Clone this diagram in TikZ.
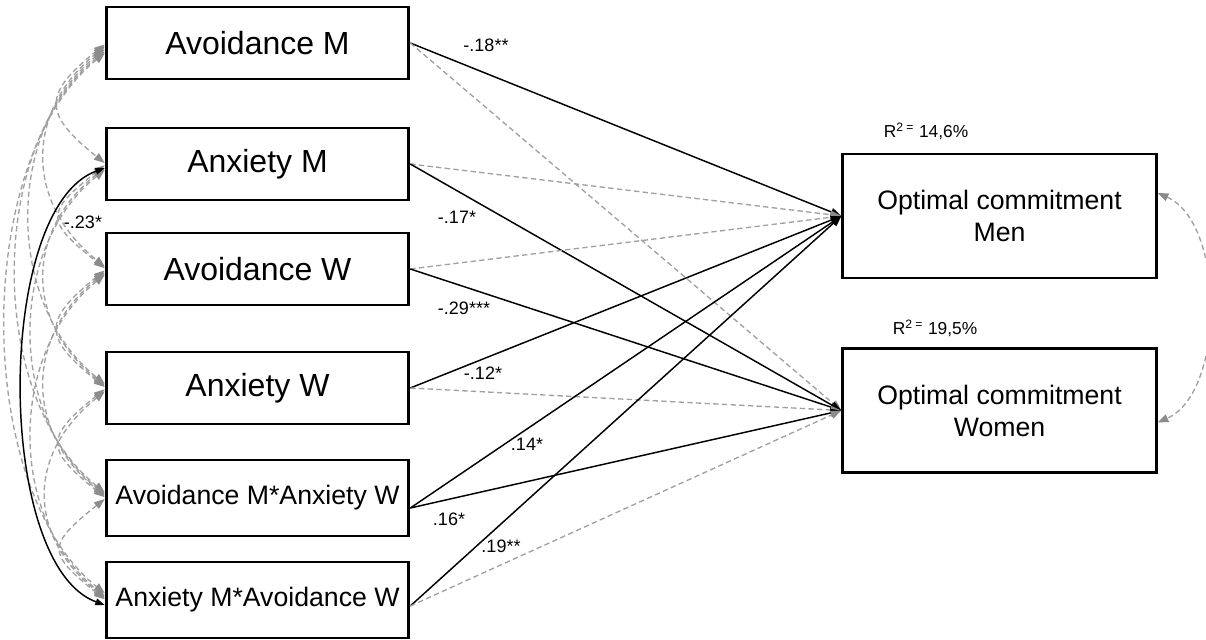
\documentclass[tikz,border=0pt]{standalone}
\usepackage{fontspec}
\setmainfont{Liberation Sans}
\usetikzlibrary{arrows.meta,calc}
\definecolor{covgray}{RGB}{160,160,160}
\definecolor{tipgray}{RGB}{140,140,140}

\tikzset{
  predbox/.style={draw, line width=2.2pt, minimum width=227pt, minimum height=54pt, inner sep=2pt, font=\fontsize{24}{28}\selectfont},
  intbox/.style={predbox, minimum height=57pt, font=\fontsize{20}{24}\selectfont},
  outbox/.style={draw, line width=2.2pt, minimum width=235pt, minimum height=93pt, align=center, font=\fontsize{20}{24}\selectfont},
  effect/.style={line width=1.1pt, -{Triangle[length=8pt,width=6pt]}},
  nseff/.style={covgray, line width=1pt, dash pattern=on 4pt off 2.5pt, -{Triangle[length=8pt,width=6pt,color=tipgray]}},
  cov/.style={covgray, line width=1pt, dash pattern=on 4pt off 2.5pt, {Triangle[length=8pt,width=6pt,color=tipgray]}-{Triangle[length=8pt,width=6pt,color=tipgray]}},
  sigcov/.style={line width=1.1pt, {Triangle[length=7pt,width=5pt]}-{Triangle[length=7pt,width=5pt]}},
  coeff/.style={font=\fontsize{13.5}{16}\selectfont, inner sep=1pt},
  rsq/.style={font=\fontsize{13}{15}\selectfont, inner sep=1pt}
}

\begin{document}
\begin{tikzpicture}[x=0.75pt, y=-0.75pt]
\useasboundingbox (0,0) rectangle (1206,639);

% predictors
\node[predbox] (avm) at (257.5,43) {Avoidance M};
\node[predbox] (anm) at (257.5,164) {Anxiety M};
\node[predbox] (avw) at (257.5,269) {Avoidance W};
\node[predbox] (anw) at (257.5,388) {Anxiety W};
\node[intbox] (avmanw) at (257.5,498) {Avoidance M*Anxiety W};
\node[intbox] (anmavw) at (257.5,600) {Anxiety M*Avoidance W};

% outcomes
\node[outbox] (men) at (999.5,216) {Optimal commitment\\Men};
\node[outbox] (wom) at (999.5,410.5) {Optimal commitment\\Women};
\node[rsq] (rmen) at (926,131) {R\textsuperscript{2 =} 14,6\%};
\node[rsq] (rwom) at (935,328) {R\textsuperscript{2 =} 19,5\%};

\coordinate (src5) at ($(avmanw.east)+(0,10)$);
\coordinate (src6) at ($(anmavw.east)+(0,6)$);

% paths
\draw[effect] (avm.east) -- (men.west);
\draw[nseff] (avm.east) -- (wom.west);
\draw[nseff] (anm.east) -- (men.west);
\draw[effect] (anm.east) -- (wom.west);
\draw[nseff] (avw.east) -- (men.west);
\draw[effect] (avw.east) -- (wom.west);
\draw[effect] (anw.east) -- (men.west);
\draw[nseff] (anw.east) -- (wom.west);
\draw[effect] (src5) -- (men.west);
\draw[effect] (src5) -- (wom.west);
\draw[effect] (src6) -- (men.west);
\draw[nseff] (src6) -- (wom.west);

% coefficients
\node[coeff] (c1) at (486,45) {-.18**};
\node[coeff] (c2) at (457,217) {-.17*};
\node[coeff] (c3) at (464,308) {-.29***};
\node[coeff] (c4) at (483,373) {-.12*};
\node[coeff] (c5) at (527,444) {.14*};
\node[coeff] (c6) at (449,519) {.16*};
\node[coeff] (c7) at (501,546) {.19**};

% covariances among predictors
\foreach \i/\j/\c in {avm/anm/62, avm/avw/80, avm/anw/100, avm/avmanw/118, avm/anmavw/132,
                      anm/avw/60, anm/anw/80, anm/avmanw/97,
                      avw/anw/62, avw/avmanw/80, avw/anmavw/97,
                      anw/avmanw/60, anw/anmavw/78, avmanw/anmavw/58}{
  \pgfmathsetmacro\o{(\c-50)/8}
  \pgfmathsetmacro\s{\c*0.8}
  \draw[cov] ($(\i.west)+(0,\o)$) .. controls +(-\c,\s) and +(-\c,-\s) .. ($(\j.west)+(0,-\o/1.5)$);
}
\draw[sigcov] ($(anm.west)+(0,4)$) .. controls +(-110,40) and +(-110,-40) .. ($(anmavw.west)+(0,5)$);
\node[coeff] (c8) at (83,222) {-.23*};

% residual covariance
\draw[cov] ($(men.east)+(0,-23)$) .. controls +(68,30) and +(68,-30) .. ($(wom.east)+(0,12)$);
\end{tikzpicture}
\end{document}
